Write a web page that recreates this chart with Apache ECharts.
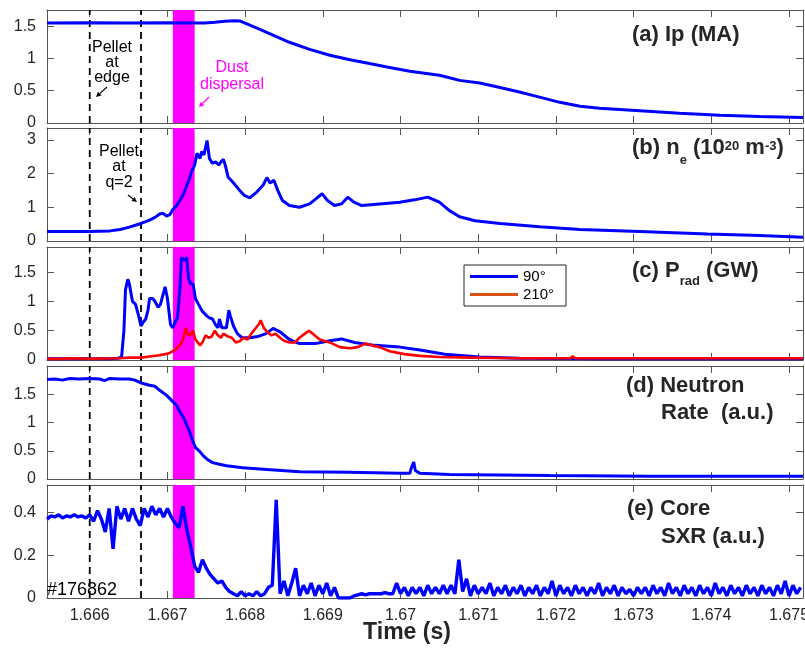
<!DOCTYPE html>
<html>
<head>
<meta charset="utf-8">
<script src="https://cdn.jsdelivr.net/npm/echarts@6/dist/echarts.min.js"></script>
<style>
html, body { margin: 0; padding: 0; background: #fff; }
#chart { width: 805px; height: 652px; }
</style>
</head>
<body>
<div id="chart"></div>
<script>
'use strict';

// time axis (s)
var tMin = 1.66545;
var tMax = 1.67518;
var timeTicks = [1.666, 1.667, 1.668, 1.669, 1.670, 1.671, 1.672, 1.673, 1.674, 1.675];
var pelletTimes = [1.666, 1.66666];
var dustBand = [1.66707, 1.66735];

// y ranges and tick values per panel (a..e)
var yMax = [1.75, 3.35, 1.93, 2.0, 0.53];
var yTicks = [[0, 0.5, 1, 1.5], [0, 1, 2, 3], [0, 0.5, 1, 1.5], [0, 0.5, 1, 1.5], [0, 0.2, 0.4]];

// (a) Ip (MA)
var ipData = [[1.66545, 1.55], [1.66600, 1.552], [1.66650, 1.548], [1.66700, 1.552], [1.66748, 1.55],
    [1.66761, 1.56], [1.66774, 1.575], [1.66787, 1.585], [1.66793, 1.58], [1.66803, 1.53],
    [1.66819, 1.45], [1.66838, 1.35], [1.66857, 1.25], [1.66883, 1.14], [1.66909, 1.05],
    [1.66935, 0.98], [1.66960, 0.92], [1.66986, 0.86], [1.67012, 0.80], [1.67031, 0.77],
    [1.67050, 0.74], [1.67063, 0.70], [1.67076, 0.66], [1.67102, 0.62], [1.67128, 0.55],
    [1.67153, 0.48], [1.67179, 0.40], [1.67205, 0.32], [1.67231, 0.26], [1.67256, 0.23],
    [1.67308, 0.19], [1.67359, 0.15], [1.67411, 0.12], [1.67462, 0.10], [1.67518, 0.085]];

// (b) ne (1e20 m^-3)
var neData = [[1.66545, 0.28], [1.66600, 0.28], [1.66626, 0.30], [1.66639, 0.34], [1.66651, 0.41],
    [1.66666, 0.52], [1.66677, 0.62], [1.66684, 0.70], [1.66690, 0.80], [1.66694, 0.82],
    [1.66699, 0.74], [1.66703, 0.78], [1.66707, 0.93], [1.66712, 1.05], [1.66716, 1.2],
    [1.66721, 1.4], [1.66725, 1.65], [1.66729, 1.9], [1.66731, 2.05], [1.66735, 2.25],
    [1.66738, 2.6], [1.66742, 2.45], [1.66744, 2.65], [1.66747, 2.55], [1.66751, 2.98],
    [1.66754, 2.45], [1.66758, 2.3], [1.66762, 2.35], [1.66766, 2.25], [1.66769, 2.35],
    [1.66772, 2.42], [1.66775, 2.2], [1.66778, 1.9], [1.66784, 1.75], [1.66793, 1.5],
    [1.66799, 1.35], [1.66806, 1.28], [1.66815, 1.45], [1.66823, 1.65], [1.66828, 1.88],
    [1.66832, 1.72], [1.66837, 1.8], [1.66842, 1.5], [1.66848, 1.2], [1.66857, 1.05],
    [1.66870, 1.0], [1.66883, 1.1], [1.66891, 1.25], [1.66899, 1.4], [1.66906, 1.2],
    [1.66915, 1.05], [1.66924, 1.1], [1.66932, 1.3], [1.66940, 1.15], [1.66950, 1.05],
    [1.66973, 1.1], [1.66999, 1.15], [1.67018, 1.22], [1.67035, 1.3], [1.67050, 1.15],
    [1.67063, 0.9], [1.67076, 0.72], [1.67096, 0.6], [1.67128, 0.52], [1.67179, 0.42],
    [1.67231, 0.34], [1.67308, 0.28], [1.67395, 0.21], [1.67462, 0.16], [1.67518, 0.11]];

// (c) Prad (GW), 90 deg
var prad90 = [[1.66545, 0.02], [1.66600, 0.02], [1.66626, 0.02], [1.66636, 0.03], [1.66641, 0.05],
    [1.66644, 0.5], [1.66646, 1.2], [1.66649, 1.38], [1.66651, 1.3], [1.66655, 1.0],
    [1.66659, 0.95], [1.66663, 0.75], [1.66666, 0.58], [1.66669, 0.65], [1.66672, 0.7],
    [1.66675, 0.85], [1.66677, 1.05], [1.66681, 1.05], [1.66684, 1.0], [1.66688, 0.9],
    [1.66691, 0.95], [1.66697, 1.25], [1.66700, 1.05], [1.66704, 0.6], [1.66707, 0.55],
    [1.66711, 0.68], [1.66713, 0.72], [1.66716, 1.2], [1.66718, 1.75], [1.66722, 1.7],
    [1.66725, 1.75], [1.66727, 1.4], [1.66730, 1.3], [1.66733, 1.3], [1.66736, 1.05],
    [1.66740, 0.95], [1.66745, 0.83], [1.66751, 0.75], [1.66754, 0.72], [1.66758, 0.7],
    [1.66762, 0.6], [1.66765, 0.55], [1.66767, 0.7], [1.66770, 0.55], [1.66772, 0.52],
    [1.66776, 0.55], [1.66779, 0.85], [1.66781, 0.75], [1.66785, 0.58], [1.66790, 0.45],
    [1.66796, 0.38], [1.66806, 0.38], [1.66816, 0.40], [1.66827, 0.45], [1.66836, 0.54],
    [1.66845, 0.48], [1.66857, 0.35], [1.66870, 0.28], [1.66890, 0.28], [1.66909, 0.33],
    [1.66924, 0.36], [1.66941, 0.30], [1.66967, 0.25], [1.66999, 0.22], [1.67025, 0.17],
    [1.67057, 0.10], [1.67102, 0.05], [1.67153, 0.03], [1.67256, 0.02], [1.67518, 0.02]];

// (c) Prad (GW), 210 deg
var prad210 = [[1.66545, 0.02], [1.66561, 0.02], [1.66581, 0.03], [1.66600, 0.02], [1.66619, 0.025],
    [1.66639, 0.03], [1.66651, 0.04], [1.66666, 0.04], [1.66677, 0.06], [1.66690, 0.08],
    [1.66697, 0.10], [1.66703, 0.12], [1.66707, 0.15], [1.66712, 0.20], [1.66716, 0.25],
    [1.66720, 0.35], [1.66724, 0.55], [1.66726, 0.45], [1.66729, 0.42], [1.66733, 0.50],
    [1.66736, 0.35], [1.66742, 0.25], [1.66745, 0.30], [1.66749, 0.42], [1.66753, 0.38],
    [1.66757, 0.40], [1.66761, 0.50], [1.66765, 0.42], [1.66769, 0.38], [1.66772, 0.45],
    [1.66778, 0.40], [1.66783, 0.38], [1.66788, 0.30], [1.66793, 0.32], [1.66798, 0.38],
    [1.66803, 0.35], [1.66808, 0.45], [1.66814, 0.55], [1.66818, 0.62], [1.66820, 0.68],
    [1.66824, 0.55], [1.66829, 0.47], [1.66834, 0.42], [1.66839, 0.45], [1.66845, 0.38],
    [1.66850, 0.33], [1.66857, 0.30], [1.66864, 0.30], [1.66870, 0.38], [1.66877, 0.45],
    [1.66882, 0.50], [1.66887, 0.45], [1.66896, 0.35], [1.66909, 0.30], [1.66922, 0.22],
    [1.66935, 0.20], [1.66945, 0.22], [1.66955, 0.28], [1.66963, 0.25], [1.66973, 0.22],
    [1.66986, 0.15], [1.67005, 0.10], [1.67025, 0.07], [1.67050, 0.05], [1.67089, 0.04],
    [1.67153, 0.03], [1.67218, 0.03], [1.67222, 0.06], [1.67225, 0.03], [1.67282, 0.03],
    [1.67385, 0.03], [1.67518, 0.03]];

// (d) neutron rate (a.u.)
var neutronData = [[1.66545, 1.76], [1.66555, 1.77], [1.66565, 1.75], [1.66574, 1.78], [1.66587, 1.77],
    [1.66600, 1.78], [1.66613, 1.77], [1.66619, 1.74], [1.66626, 1.78], [1.66639, 1.77],
    [1.66651, 1.77], [1.66658, 1.75], [1.66666, 1.70], [1.66677, 1.66], [1.66684, 1.64],
    [1.66690, 1.57], [1.66699, 1.48], [1.66707, 1.37], [1.66712, 1.30], [1.66716, 1.19],
    [1.66721, 1.08], [1.66725, 0.95], [1.66729, 0.82], [1.66733, 0.66], [1.66736, 0.56],
    [1.66742, 0.48], [1.66747, 0.40], [1.66751, 0.35], [1.66758, 0.29], [1.66767, 0.26],
    [1.66776, 0.235], [1.66797, 0.20], [1.66828, 0.17], [1.66870, 0.13], [1.66935, 0.12],
    [1.66999, 0.10], [1.67012, 0.10], [1.67014, 0.20], [1.67017, 0.30], [1.67019, 0.15],
    [1.67025, 0.10], [1.67063, 0.08], [1.67192, 0.06], [1.67321, 0.05], [1.67518, 0.05]];

// (e) core SXR (a.u.), sampled every 50 us from 1.66545 s
var sxrStart = 1.66545;
var sxrStep = 0.00005;
var sxrVal = [
    0.37, 0.385, 0.38, 0.39, 0.375, 0.385, 0.38, 0.39, 0.38, 0.385,
    0.375, 0.39, 0.36, 0.41, 0.37, 0.31, 0.42, 0.23, 0.43, 0.37,
    0.42, 0.36, 0.42, 0.37, 0.34, 0.42, 0.38, 0.43, 0.39, 0.42,
    0.38, 0.42, 0.38, 0.35, 0.33, 0.43, 0.32, 0.24, 0.15, 0.12,
    0.18, 0.14, 0.11, 0.09, 0.07, 0.08, 0.05, 0.03, 0.02, 0.01,
    0.03, 0.01, 0.02, 0.01, 0.03, 0.01, 0.02, 0.05, 0.06, 0.46,
    0.02, 0.08, 0.01, 0.07, 0.14, 0.01, 0.06, 0.02, 0.07, 0.01,
    0.06, 0.02, 0.07, 0.01, 0.05, 0, 0, 0, 0, 0.01,
    0.015, 0.02, 0.015, 0.02, 0.02, 0.02, 0.02, 0.025, 0.02, 0.02,
    0.07, 0.02, 0.05, 0.01, 0.05, 0.02, 0.05, 0.01, 0.06, 0.02,
    0.05, 0.02, 0.06, 0.02, 0.06, 0.02, 0.18, 0.03, 0.09, 0.01,
    0.06, 0.02, 0.05, 0.02, 0.07, 0.01, 0.05, 0.02, 0.06, 0.01,
    0.05, 0.02, 0.06, 0.01, 0.05, 0.02, 0.06, 0.01, 0.05, 0.02,
    0.08, 0.01, 0.06, 0.02, 0.05, 0.01, 0.06, 0.02, 0.05, 0.01,
    0.05, 0.02, 0.07, 0.01, 0.05, 0.02, 0.06, 0.01, 0.05, 0.02,
    0.04, 0.01, 0.05, 0.02, 0.05, 0.01, 0.06, 0.02, 0.05, 0.01,
    0.07, 0.02, 0.05, 0.01, 0.06, 0.02, 0.05, 0.01, 0.06, 0.02,
    0.05, 0.01, 0.07, 0.02, 0.05, 0.01, 0.06, 0.02, 0.05, 0.01,
    0.06, 0.02, 0.05, 0.01, 0.06, 0.02, 0.05, 0.01, 0.06, 0.02,
    0.08, 0.01, 0.06, 0.02, 0.05];

var sxrData = [];
for (var k = 0; k < sxrVal.length; k++) {
    sxrData.push([sxrStart + k * sxrStep, sxrVal[k]]);
}

var FONT = '"Liberation Sans", Arial, Helvetica, sans-serif';
var AXIS_COLOR = '#555';
var TEXT_COLOR = '#262626';
var BLUE = '#0000ff';
var RED = '#ff0000';

var panelTops = [10, 128, 247, 366, 485];
var panelHeight = 113;

var grids = [], xAxes = [], yAxes = [], series = [];

function timeLabel(v) {
    return String(parseFloat(v.toFixed(3)));
}

for (var i = 0; i < 5; i++) {
    grids.push({left: 47, right: 2, top: panelTops[i], height: panelHeight,
        outerBoundsMode: 'none', containLabel: false});
    ['bottom', 'top'].forEach(function (pos) {
        xAxes.push({
            gridIndex: i, type: 'value', position: pos, min: tMin, max: tMax,
            axisLine: {show: true, onZero: false, lineStyle: {color: AXIS_COLOR, width: 1}},
            axisTick: {show: true, inside: true, length: 7, customValues: timeTicks,
                lineStyle: {color: AXIS_COLOR}},
            axisLabel: {show: pos === 'bottom' && i === 4, customValues: timeTicks,
                formatter: timeLabel, fontSize: 16, color: TEXT_COLOR, fontFamily: FONT, margin: 10},
            splitLine: {show: false}
        });
    });
    ['left', 'right'].forEach(function (pos) {
        yAxes.push({
            gridIndex: i, type: 'value', position: pos, min: 0, max: yMax[i],
            axisLine: {show: true, onZero: false, lineStyle: {color: AXIS_COLOR, width: 1}},
            axisTick: {show: true, inside: true, length: 7, customValues: yTicks[i],
                lineStyle: {color: AXIS_COLOR}},
            axisLabel: {show: pos === 'left', customValues: yTicks[i],
                formatter: function (v) { return String(v); },
                fontSize: 16, color: TEXT_COLOR, fontFamily: FONT, margin: 11},
            splitLine: {show: false}
        });
    });
    // dust dispersal band
    series.push({
        type: 'line', xAxisIndex: 2 * i, yAxisIndex: 2 * i, data: [], z: 1, silent: true,
        markArea: {
            silent: true,
            itemStyle: {color: '#ff00ff', opacity: 1},
            data: [[{xAxis: dustBand[0]}, {xAxis: dustBand[1]}]]
        }
    });
    // pellet times, dashed
    pelletTimes.forEach(function (t) {
        series.push({
            type: 'line', xAxisIndex: 2 * i, yAxisIndex: 2 * i, z: 2, silent: true,
            data: [[t, 0], [t, yMax[i]]], showSymbol: false, symbol: 'none',
            lineStyle: {color: '#000', type: [7, 5], width: 1.8}
        });
    });
}

function lineSeries(name, idx, data, color, width) {
    return {
        name: name, type: 'line', xAxisIndex: 2 * idx, yAxisIndex: 2 * idx,
        data: data, showSymbol: false, symbol: 'none', z: 3,
        lineStyle: {color: color, width: width || 3},
        itemStyle: {color: color}
    };
}

series.push(lineSeries('Ip', 0, ipData, BLUE));
series.push(lineSeries('ne', 1, neData, BLUE));
series.push(lineSeries('90°', 2, prad90, BLUE));
series.push(lineSeries('210°', 2, prad210, RED, 2.6));
series.push(lineSeries('Neutron', 3, neutronData, BLUE));
series.push(lineSeries('SXR', 4, sxrData, BLUE, 3.4));

function arrow(x1, y1, x2, y2, color) {
    var a = Math.atan2(y2 - y1, x2 - x1), h = 5, w = 2.6;
    var bx = x2 - h * Math.cos(a), by = y2 - h * Math.sin(a);
    return [
        {type: 'line', z: 100, shape: {x1: x1, y1: y1, x2: bx, y2: by},
            style: {stroke: color, lineWidth: 1.2}},
        {type: 'polygon', z: 100, shape: {points: [[x2, y2],
            [bx - w * Math.sin(a), by + w * Math.cos(a)],
            [bx + w * Math.sin(a), by - w * Math.cos(a)]]},
            style: {fill: color}}
    ];
}

function txt(x, y, text, size, opts) {
    opts = opts || {};
    return {
        type: 'text', x: x, y: y, z: 100,
        style: {
            text: text, fill: opts.fill || TEXT_COLOR,
            font: (opts.bold ? 'bold ' : '') + size + 'px ' + FONT,
            align: opts.align || 'left', verticalAlign: opts.va || 'middle',
            lineHeight: opts.lineHeight
        }
    };
}

function richTitle(x, yTop, text, subPad) {
    var mainFont = 'bold 22px ' + FONT, smallFont = 'bold 13px ' + FONT;
    return {
        type: 'text', x: x, y: yTop, z: 100,
        style: {
            text: text, align: 'left', verticalAlign: 'top',
            rich: {
                m: {font: mainFont, fill: TEXT_COLOR, lineHeight: 26, verticalAlign: 'top'},
                sub: {font: smallFont, fill: TEXT_COLOR, lineHeight: 13, verticalAlign: 'top',
                    padding: [subPad, 0, 0, 0]},
                sup: {font: smallFont, fill: TEXT_COLOR, lineHeight: 13, verticalAlign: 'top',
                    padding: [3, 0, 0, 0]}
            }
        }
    };
}

var graphics = [
    txt(632, 35, '(a) Ip (MA)', 22, {bold: true}),
    richTitle(632, 137, '{m|(b) n}{sub|e}{m| (10}{sup|20}{m| m}{sup|-3}{m|)}', 17),
    richTitle(632, 260, '{m|(c) P}{sub|rad}{m| (GW)}', 15),
    txt(626, 386, '(d) Neutron', 22, {bold: true}),
    txt(661, 413, 'Rate  (a.u.)', 22, {bold: true}),
    txt(627, 509, '(e) Core', 22, {bold: true}),
    txt(661, 537, 'SXR (a.u.)', 22, {bold: true}),
    txt(112, 63, 'Pellet\nat\nedge', 16, {align: 'center', fill: '#000', lineHeight: 15}),
    txt(119, 167, 'Pellet\nat\nq=2', 16, {align: 'center', fill: '#000', lineHeight: 15.5}),
    txt(232, 68, 'Dust', 16, {align: 'center', fill: '#ff00ff'}),
    txt(232, 85, 'dispersal', 16, {align: 'center', fill: '#ff00ff'}),
    txt(47, 590, '#176862', 18, {fill: '#000'}),
    txt(407, 633, 'Time (s)', 23, {bold: true, align: 'center'})
].concat(arrow(107, 87, 96, 97, '#000'))
 .concat(arrow(209, 97, 199, 107, '#ff00ff'))
 .concat(arrow(128, 195, 137, 202, '#000'));

var chart = echarts.init(document.getElementById('chart'), null, {renderer: 'canvas'});
chart.setOption({
    animation: false,
    backgroundColor: '#fff',
    textStyle: {fontFamily: FONT},
    grid: grids,
    xAxis: xAxes,
    yAxis: yAxes,
    legend: {
        left: 464, top: 265, orient: 'vertical', icon: 'rect',
        data: [{name: '90°'}, {name: '210°', itemStyle: {color: '#d95319'}}],
        itemWidth: 48, itemHeight: 3, itemGap: 3,
        padding: [4, 12, 4, 6],
        borderColor: '#262626', borderWidth: 1, backgroundColor: '#fff',
        textStyle: {fontSize: 15, color: '#000', fontFamily: FONT}
    },
    series: series,
    graphic: graphics
});
</script>
</body>
</html>
